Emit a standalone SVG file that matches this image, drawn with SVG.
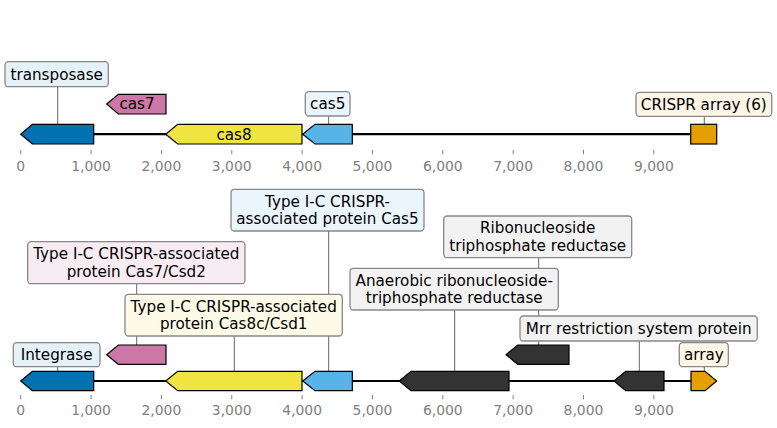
<svg xmlns="http://www.w3.org/2000/svg" width="777" height="428" viewBox="0 0 777 428">
<style>
text { font-family: "DejaVu Sans", "Liberation Sans", sans-serif; }
.lbl { font-size: 15.2px; fill: #000; text-anchor: middle; }
.tick { font-size: 13.9px; fill: #808080; text-anchor: middle; }
.tk { stroke: #808080; stroke-width: 1; }
.track { stroke: #000; stroke-width: 2.2; }
.conn { stroke: #555; stroke-width: 0.9; fill: none; }
.gene { stroke: #000; stroke-width: 1.2; stroke-linejoin: miter; }
.box { stroke: #888; stroke-width: 1.3; }
.b-blue { fill: #e6f2fa; }
.b-lblue { fill: #eaf5fd; }
.b-pink { fill: #f8ecf3; }
.b-yel { fill: #fdfbe7; }
.b-org { fill: #fdf5e6; }
.b-gray { fill: #f2f2f2; }
</style>
<rect x="0" y="0" width="777" height="428" fill="#fff"/>

<!-- axes -->
<g id="axis-top">
  <line class="tk" x1="20.7" y1="150" x2="20.7" y2="154.3"/>
  <line class="tk" x1="91.05" y1="150" x2="91.05" y2="154.3"/>
  <line class="tk" x1="161.4" y1="150" x2="161.4" y2="154.3"/>
  <line class="tk" x1="231.75" y1="150" x2="231.75" y2="154.3"/>
  <line class="tk" x1="302.1" y1="150" x2="302.1" y2="154.3"/>
  <line class="tk" x1="372.45" y1="150" x2="372.45" y2="154.3"/>
  <line class="tk" x1="442.8" y1="150" x2="442.8" y2="154.3"/>
  <line class="tk" x1="513.15" y1="150" x2="513.15" y2="154.3"/>
  <line class="tk" x1="583.5" y1="150" x2="583.5" y2="154.3"/>
  <line class="tk" x1="653.85" y1="150" x2="653.85" y2="154.3"/>
  <text class="tick" x="20.7" y="170.7">0</text>
  <text class="tick" x="91.05" y="170.7">1,000</text>
  <text class="tick" x="161.4" y="170.7">2,000</text>
  <text class="tick" x="231.75" y="170.7">3,000</text>
  <text class="tick" x="302.1" y="170.7">4,000</text>
  <text class="tick" x="372.45" y="170.7">5,000</text>
  <text class="tick" x="442.8" y="170.7">6,000</text>
  <text class="tick" x="513.15" y="170.7">7,000</text>
  <text class="tick" x="583.5" y="170.7">8,000</text>
  <text class="tick" x="653.85" y="170.7">9,000</text>
</g>
<g id="axis-bottom">
  <line class="tk" x1="20.7" y1="395" x2="20.7" y2="399.3"/>
  <line class="tk" x1="91.05" y1="395" x2="91.05" y2="399.3"/>
  <line class="tk" x1="161.4" y1="395" x2="161.4" y2="399.3"/>
  <line class="tk" x1="231.75" y1="395" x2="231.75" y2="399.3"/>
  <line class="tk" x1="302.1" y1="395" x2="302.1" y2="399.3"/>
  <line class="tk" x1="372.45" y1="395" x2="372.45" y2="399.3"/>
  <line class="tk" x1="442.8" y1="395" x2="442.8" y2="399.3"/>
  <line class="tk" x1="513.15" y1="395" x2="513.15" y2="399.3"/>
  <line class="tk" x1="583.5" y1="395" x2="583.5" y2="399.3"/>
  <line class="tk" x1="653.85" y1="395" x2="653.85" y2="399.3"/>
  <text class="tick" x="20.7" y="415">0</text>
  <text class="tick" x="91.05" y="415">1,000</text>
  <text class="tick" x="161.4" y="415">2,000</text>
  <text class="tick" x="231.75" y="415">3,000</text>
  <text class="tick" x="302.1" y="415">4,000</text>
  <text class="tick" x="372.45" y="415">5,000</text>
  <text class="tick" x="442.8" y="415">6,000</text>
  <text class="tick" x="513.15" y="415">7,000</text>
  <text class="tick" x="583.5" y="415">8,000</text>
  <text class="tick" x="653.85" y="415">9,000</text>
</g>

<!-- track lines -->
<g id="tracks">
  <line class="track" x1="93.7" y1="134.2" x2="690.7" y2="134.2"/>
  <line class="track" x1="93.7" y1="381" x2="691" y2="381"/>
</g>

<!-- connectors -->
<g id="connectors">
  <line class="conn" x1="57.7" y1="86.7" x2="57.7" y2="124.3"/>
  <line class="conn" x1="328.7" y1="116" x2="328.7" y2="124.3"/>
  <line class="conn" x1="704.3" y1="116.3" x2="704.3" y2="124.3"/>
  <line class="conn" x1="57.7" y1="366.7" x2="57.7" y2="371.3"/>
  <line class="conn" x1="136.7" y1="283.7" x2="136.7" y2="345"/>
  <line class="conn" x1="234.3" y1="336" x2="234.3" y2="371.3"/>
  <line class="conn" x1="328.7" y1="231" x2="328.7" y2="371.3"/>
  <line class="conn" x1="454.7" y1="310" x2="454.7" y2="371.3"/>
  <line class="conn" x1="538.7" y1="257.7" x2="538.7" y2="345"/>
  <line class="conn" x1="639.3" y1="341" x2="639.3" y2="371.3"/>
  <line class="conn" x1="704.3" y1="366.7" x2="704.3" y2="371.3"/>
</g>

<!-- top track genes -->
<g id="top-transposase"><polygon class="gene" fill="#0173b2" points="20.7,134.2 32.3,124.3 93.7,124.3 93.7,144 32.3,144"/></g>
<g id="top-cas7"><polygon class="gene" fill="#cc78a6" points="106.7,104 118.3,94.3 166,94.3 166,114 118.3,114"/><text class="lbl" x="137" y="109.3">cas7</text></g>
<g id="top-cas8"><polygon class="gene" fill="#f0e441" points="165.7,134.2 177.7,124.3 302,124.3 302,144 177.7,144"/><text class="lbl" x="234" y="139.5">cas8</text></g>
<g id="top-cas5"><polygon class="gene" fill="#56b4e9" points="302.7,134.2 315,124.3 352.3,124.3 352.3,144 315,144"/></g>
<g id="top-crispr"><rect class="gene" fill="#e69f00" x="690.7" y="124.3" width="26" height="19.7"/></g>

<!-- top labels -->
<g id="lbl-transposase"><rect class="box b-blue" x="5" y="61.7" width="103.3" height="25" rx="3.5"/><text class="lbl" x="56.7" y="79.5">transposase</text></g>
<g id="lbl-cas5"><rect class="box b-lblue" x="305.3" y="91.7" width="44.7" height="24.3" rx="3.5"/><text class="lbl" x="327.7" y="109.1">cas5</text></g>
<g id="lbl-crispr"><rect class="box b-org" x="636" y="92.3" width="135.7" height="24" rx="3.5"/><text class="lbl" x="703.8" y="109.6">CRISPR array (6)</text></g>

<!-- bottom track genes -->
<g id="bot-integrase"><polygon class="gene" fill="#0173b2" points="20.7,381 32.3,371.3 93.7,371.3 93.7,390.7 32.3,390.7"/></g>
<g id="bot-cas7"><polygon class="gene" fill="#cc78a6" points="106.7,354.7 118.3,345 166,345 166,364.3 118.3,364.3"/></g>
<g id="bot-cas8c"><polygon class="gene" fill="#f0e441" points="165.7,381 177.7,371.3 302,371.3 302,390.7 177.7,390.7"/></g>
<g id="bot-cas5"><polygon class="gene" fill="#56b4e9" points="302.7,381 315,371.3 352.3,371.3 352.3,390.7 315,390.7"/></g>
<g id="bot-anaerobic"><polygon class="gene" fill="#333333" points="399.3,381 411,371.3 509,371.3 509,390.7 411,390.7"/></g>
<g id="bot-ribonuc"><polygon class="gene" fill="#333333" points="506,354.7 517.7,345 569,345 569,364.3 517.7,364.3"/></g>
<g id="bot-mrr"><polygon class="gene" fill="#333333" points="614,381 625.7,371.3 664,371.3 664,390.7 625.7,390.7"/></g>
<g id="bot-array"><polygon class="gene" fill="#e69f00" points="691,371.3 705,371.3 716.7,381 705,390.7 691,390.7"/></g>

<!-- bottom labels -->
<g id="lbl-integrase"><rect class="box b-blue" x="13.3" y="342.7" width="86.7" height="24" rx="3.5"/><text class="lbl" x="56.7" y="360">Integrase</text></g>
<g id="lbl-cas7"><rect class="box b-pink" x="27.7" y="241.7" width="217.3" height="42" rx="3.5"/><text class="lbl" x="136.3" y="259.1">Type I-C CRISPR-associated</text><text class="lbl" x="136.3" y="276.8">protein Cas7/Csd2</text></g>
<g id="lbl-cas8c"><rect class="box b-yel" x="125" y="294.3" width="217.3" height="41.7" rx="3.5"/><text class="lbl" x="233.7" y="311.7">Type I-C CRISPR-associated</text><text class="lbl" x="233.7" y="329.4">protein Cas8c/Csd1</text></g>
<g id="lbl-cas5b"><rect class="box b-lblue" x="231" y="189.3" width="193" height="41.7" rx="3.5"/><text class="lbl" x="327.5" y="206.6">Type I-C CRISPR-</text><text class="lbl" x="327.5" y="224.3">associated protein Cas5</text></g>
<g id="lbl-anaerobic"><rect class="box b-gray" x="350" y="268.3" width="208.3" height="41.7" rx="3.5"/><text class="lbl" x="454.2" y="285.6">Anaerobic ribonucleoside-</text><text class="lbl" x="454.2" y="303.3">triphosphate reductase</text></g>
<g id="lbl-ribonuc"><rect class="box b-gray" x="443.7" y="216" width="188" height="41.7" rx="3.5"/><text class="lbl" x="537.7" y="233.3">Ribonucleoside</text><text class="lbl" x="537.7" y="251">triphosphate reductase</text></g>
<g id="lbl-mrr"><rect class="box b-gray" x="520" y="316" width="237.3" height="25" rx="3.5"/><text class="lbl" x="638.7" y="333.8">Mrr restriction system protein</text></g>
<g id="lbl-array"><rect class="box b-org" x="679.3" y="342.7" width="49" height="24" rx="3.5"/><text class="lbl" x="703.8" y="360">array</text></g>
</svg>
